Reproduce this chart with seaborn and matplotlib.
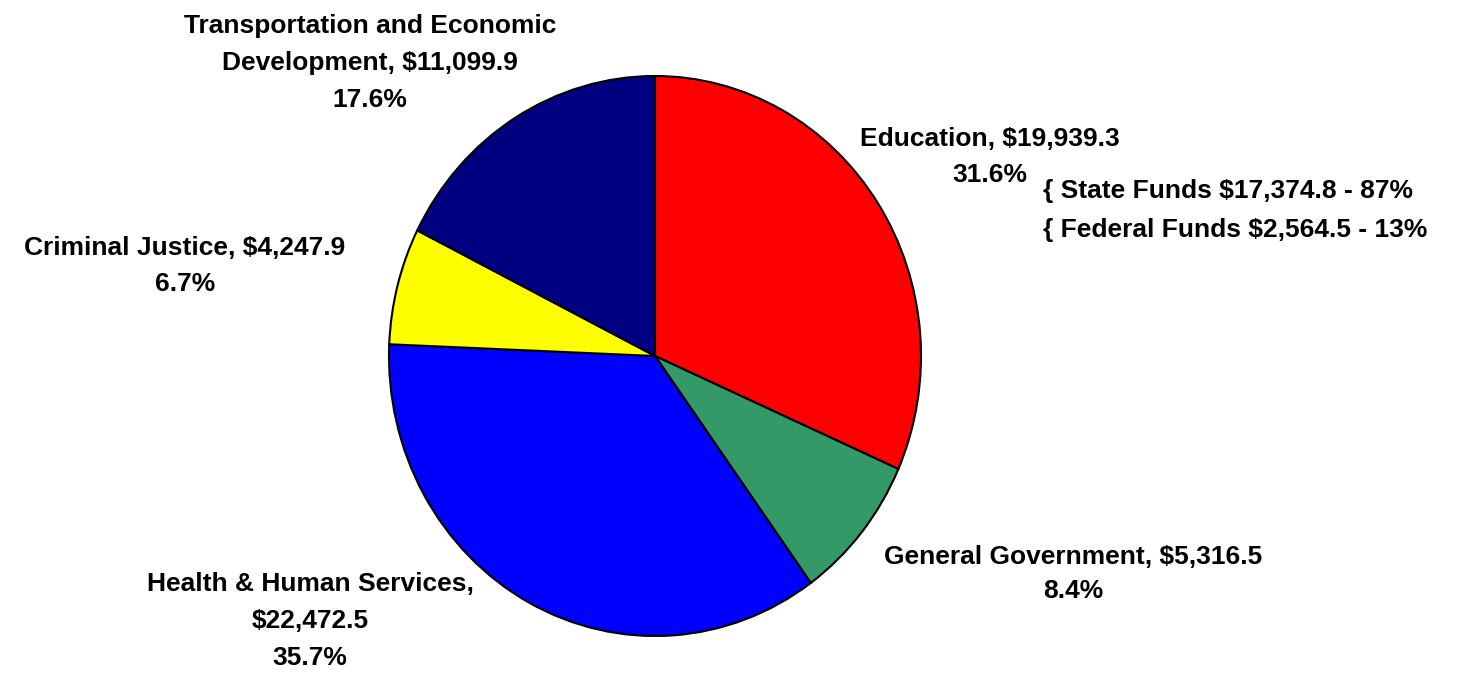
import matplotlib
matplotlib.use("Agg")
import matplotlib.pyplot as plt
import seaborn as sns

categories = ["Education", "General Government", "Health & Human Services",
              "Criminal Justice", "Transportation and Economic Development"]
values = [19939.3, 5316.5, 22472.5, 4247.9, 11099.9]
colors = ["#FF0000", "#339966", "#0000FF", "#FFFF00", "#000080"]

labels = [
    "Education, $19,939.3\n31.6%",
    "General Government, $5,316.5\n8.4%",
    "Health & Human Services,\n$22,472.5\n35.7%",
    "Criminal Justice, $4,247.9\n6.7%",
    "Transportation and Economic\nDevelopment, $11,099.9\n17.6%",
]
label_px = [(990, 157), (1073, 574), (310, 621), (185, 266), (370, 63)]
label_ls = [1.68, 1.55, 1.68, 1.68, 1.68]
edu_detail = ["{ State Funds $17,374.8 - 87%", "{ Federal Funds $2,564.5 - 13%"]

sns.set_theme(style="white")
plt.rcParams["font.family"] = ["Liberation Sans", "DejaVu Sans"]

W, H = 1460, 673
FS = 19
fig = plt.figure(figsize=(W / 100, H / 100), dpi=100)
fig.patch.set_facecolor("white")
ax = fig.add_axes([0, 0, 1, 1])
ax.pie(values, colors=colors, startangle=90, counterclock=False,
       wedgeprops=dict(edgecolor="black", linewidth=1.5))
ax.set_aspect("auto")
cx, cy, rx, ry = 655, 356, 266, 280
xmin = -cx / rx
ax.set_xlim(xmin, xmin + W / rx)
ymin = -(H - cy) / ry
ax.set_ylim(ymin, ymin + H / ry)
ax.axis("off")

for lab, (px, py), ls in zip(labels, label_px, label_ls):
    fig.text(px / W, 1 - py / H, lab, ha="center", va="center", color="black",
             fontsize=FS, fontweight="bold", linespacing=ls)

fig.text(1043 / W, 1 - 191 / H, edu_detail[0], ha="left", va="center",
         fontsize=FS, fontweight="bold", color="black")
fig.text(1043 / W, 1 - 230 / H, edu_detail[1], ha="left", va="center",
         fontsize=FS, fontweight="bold", color="black")

fig.savefig("out.png", dpi=100, facecolor="white")
